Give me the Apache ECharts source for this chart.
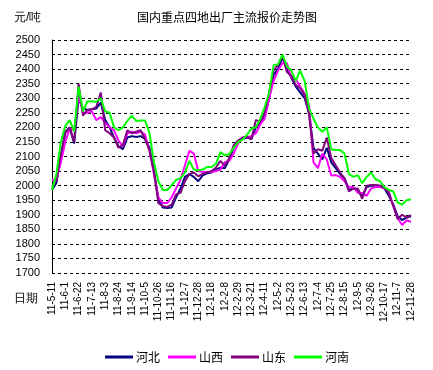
<!DOCTYPE html>
<html><head><meta charset="utf-8">
<script src="https://cdn.jsdelivr.net/npm/echarts@6/dist/echarts.min.js"></script>
<style>html,body{margin:0;padding:0;background:#fff}#c{width:433px;height:370px}</style>
</head><body><div id="c"></div>
<script>
// Tick labels (every 3 weeks)
var tickLabels = ['11-5-11','11-6-1','11-6-22','11-7-13','11-8-3','11-8-24','11-9-14','11-10-5','11-10-26','11-11-16','11-12-7','11-12-28','12-1-18','12-2-8','12-2-29','12-3-21','12-4-11','12-5-2','12-5-23','12-6-13','12-7-4','12-7-25','12-8-15','12-9-5','12-9-26','12-10-17','12-11-7','12-11-28'];
var yTicks = [1700,1750,1800,1850,1900,1950,2000,2050,2100,2150,2200,2250,2300,2350,2400,2450,2500];
var seriesNames = ['河北','山西','山东','河南'];

// Weekly values
var hebei = [1985,2010,2100,2185,2200,2145,2300,2265,2260,2262,2265,2285,2225,2200,2165,2135,2125,2165,2170,2167,2170,2160,2130,2050,1955,1925,1923,1925,1960,1990,2030,2040,2030,2015,2035,2042,2045,2055,2062,2060,2090,2130,2150,2160,2165,2160,2200,2215,2240,2300,2380,2400,2440,2400,2370,2340,2320,2300,2250,2130,2110,2090,2130,2080,2060,2040,2025,1985,1990,1985,1965,1995,2000,2000,2000,1990,1965,1935,1895,1882,1890,1895];
var shanxi = [2020,2020,2080,2150,2196,2190,2310,2250,2250,2255,2225,2235,2215,2200,2190,2155,2135,2180,2185,2180,2185,2175,2120,2040,1960,1940,1940,1960,1990,2020,2070,2120,2110,2050,2047,2047,2047,2050,2055,2080,2085,2110,2145,2165,2167,2170,2180,2210,2230,2300,2360,2395,2420,2420,2370,2365,2340,2315,2276,2080,2060,2110,2090,2035,2036,2030,2015,1996,1995,1975,1975,1965,1990,1995,1996,1990,1979,1930,1888,1865,1880,1876];
var shandong = [1995,2020,2110,2180,2200,2150,2350,2240,2260,2262,2270,2320,2190,2180,2165,2130,2140,2190,2180,2185,2190,2160,2120,2050,1940,1930,1927,1935,1970,1975,2015,2040,2045,2032,2040,2045,2050,2062,2085,2068,2095,2139,2155,2165,2167,2160,2225,2220,2250,2320,2395,2415,2445,2390,2378,2345,2335,2310,2245,2110,2125,2120,2165,2095,2070,2045,2025,1980,1990,1990,1955,2000,2002,2002,2000,1992,1975,1930,1885,1900,1890,1899];
var henan = [1985,2040,2150,2205,2225,2185,2340,2255,2290,2290,2288,2300,2255,2250,2200,2190,2200,2222,2240,2222,2224,2224,2180,2080,2015,1985,1985,2002,2020,2025,2045,2085,2055,2053,2055,2064,2064,2075,2115,2104,2108,2130,2150,2158,2175,2196,2200,2230,2270,2320,2414,2416,2450,2410,2395,2360,2395,2360,2265,2230,2200,2185,2200,2125,2122,2122,2110,2040,2030,2036,2008,2030,2045,2022,2015,1995,1985,1980,1942,1935,1950,1953];

// Weekly categories: each tick date followed by two intermediate weeks
function parseLbl(s){var p=s.split('-');return new Date(2000+(+p[0]),(+p[1])-1,+p[2]);}
function fmt(d){return (d.getFullYear()-2000)+'-'+(d.getMonth()+1)+'-'+d.getDate();}
var categories = [];
for (var i=0;i<tickLabels.length;i++){
  categories.push(tickLabels[i]);
  if(i<tickLabels.length-1){
    var d=parseLbl(tickLabels[i]);
    for(var w=1;w<3;w++){var dd=new Date(d.getTime());dd.setDate(dd.getDate()+7*w);categories.push(fmt(dd));}
  }
}

var colors = ['#000080','#FF00FF','#800080','#00FF00'];
var datas = [hebei, shanxi, shandong, henan];
var cjk = '"Noto Sans CJK SC", sans-serif';
var latin = '"Liberation Sans", Arial, sans-serif';

var chart = echarts.init(document.getElementById('c'), null, {renderer:'canvas'});
chart.setOption({
  animation:false,
  backgroundColor:'#ffffff',
  color: colors,
  title:{text:'国内重点四地出厂主流报价走势图', left:222, textAlign:'center', top:6,
    textStyle:{fontSize:12, fontWeight:'normal', color:'#000', fontFamily:cjk}},
  legend:{data:seriesNames, left:100, top:346, icon:'rect', itemWidth:28, itemHeight:3, itemGap:8,
    textStyle:{fontSize:12, color:'#000', fontFamily:cjk, padding:[0,0,0,-2]}},
  graphic:[
    {type:'text', left:14, top:12, style:{text:'元/吨', fontSize:12, fill:'#000', font:'12px '+cjk}},
    {type:'text', left:14, top:293, style:{text:'日期', fontSize:12, fill:'#000', font:'12px '+cjk}}
  ],
  grid:{left:52, right:22, top:40, bottom:97},
  xAxis:{type:'category', data:categories, boundaryGap:false,
    axisLine:{show:false}, axisTick:{show:false},
    axisLabel:{rotate:90, interval:2, fontSize:10, color:'#000', fontFamily:latin, margin:9},
    splitLine:{show:false}},
  yAxis:{type:'value', min:yTicks[0], max:yTicks[yTicks.length-1], interval:50,
    axisLine:{show:true, lineStyle:{color:'#000', width:1}}, axisTick:{show:false},
    axisLabel:{fontSize:11, color:'#000', fontFamily:latin, margin:12, formatter:function(v){return String(v);}},
    splitLine:{show:true, lineStyle:{color:'#000', type:[3,3], width:1}}},
  series: seriesNames.map(function(n,i){
    return {name:n, type:'line', data:datas[i], symbol:'none', lineStyle:{width:2, color:colors[i]}, itemStyle:{color:colors[i]}};
  })
});
</script></body></html>
